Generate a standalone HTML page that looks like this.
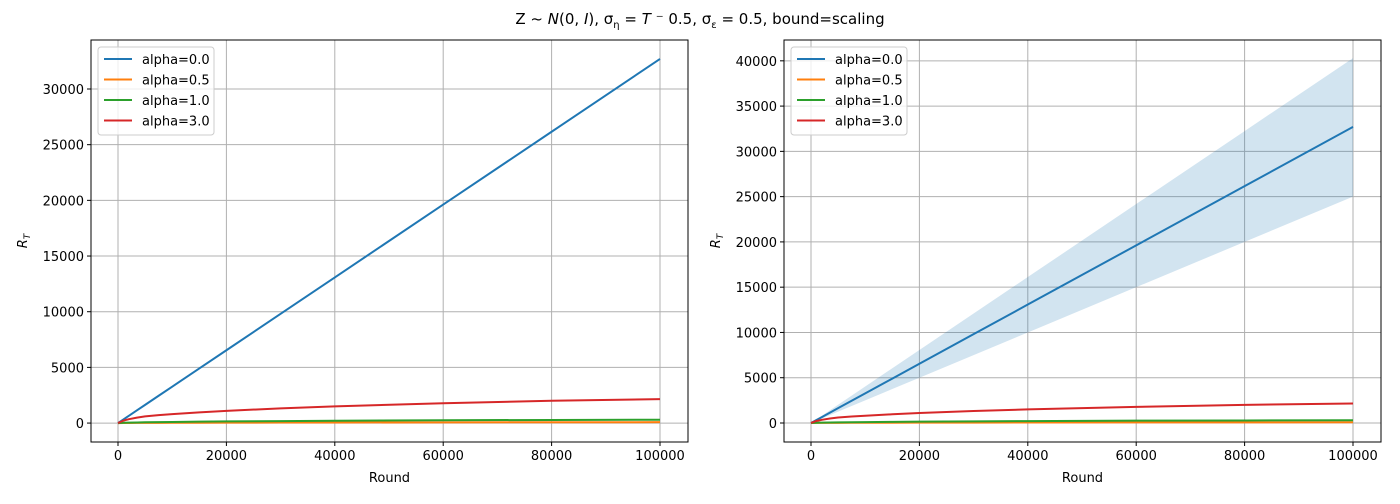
<!DOCTYPE html>
<html><head><meta charset="utf-8"><style>
body{margin:0;background:#fff;font-family:"DejaVu Sans","Liberation Sans",sans-serif}
svg text{font-family:"DejaVu Sans","Liberation Sans",sans-serif;font-size:13px;fill:#000}
</style></head><body>
<svg id="chart" width="1400" height="500" xmlns="http://www.w3.org/2000/svg">
<text x="700" y="24" text-anchor="middle" font-size="15" style="font-size:15px">Z ~ <tspan font-style="italic">N</tspan>(0, <tspan font-style="italic">I</tspan>), σ<tspan font-size="10" dy="4">η</tspan><tspan dy="-4"> = </tspan><tspan font-style="italic">T</tspan> ⁻ 0.5, σ<tspan font-size="10" dy="4">ε</tspan><tspan dy="-4"> = 0.5, bound=scaling</tspan></text>
</svg>
<script>
const rounds=[0,1000,2000,3500,5000,7500,10000,15000,20000,30000,40000,60000,80000,100000];
const a0=[0,327,654,1145,1635,2453,3270,4905,6540,9810,13080,19620,26160,32700];
const a05=[0,6,10,14,18,22,25,32,38,46,52,63,72,80];
const a1=[0,25,40,55,70,85,100,125,150,180,210,255,280,300];
const a3=[0,220,350,490,600,710,800,960,1100,1320,1500,1780,2000,2150];
const bandLo=[0,250,500,875,1250,1875,2500,3750,5000,7500,10000,15000,20000,25000];
const bandHi=[0,403,806,1411,2015,3023,4030,6045,8060,12090,16120,24180,32240,40300];
const labels=["alpha=0.0","alpha=0.5","alpha=1.0","alpha=3.0"];
const colors=["#1f77b4","#ff7f0e","#2ca02c","#d62728"];
const xticks=[0,20000,40000,60000,80000,100000];
const yticksL=[0,5000,10000,15000,20000,25000,30000];
const yticksR=[0,5000,10000,15000,20000,25000,30000,35000,40000];
const svg=document.getElementById('chart');const NS='http://www.w3.org/2000/svg';
function mk(t,a,p){const e=document.createElementNS(NS,t);for(const k in a)e.setAttribute(k,a[k]);(p||svg).appendChild(e);return e;}
function panel(px,yMin,yMax,yticks,band,name){
 const L=px,R=px+597,T=40,B=442;
 const X=v=>L+27+v/100000*542;
 const Y=v=>B-(v-yMin)/(yMax-yMin)*(B-T);
 const g=mk('g',{});
 xticks.forEach(t=>{const l=mk('line',{x1:X(t),x2:X(t),y1:T,y2:B,stroke:'#b0b0b0','stroke-width':1},g);
  mk('line',{x1:X(t),x2:X(t),y1:B,y2:B+4,stroke:'#000'},g);
  const tx=mk('text',{x:X(t),y:B+18,'text-anchor':'middle'},g);tx.textContent=t;});
 yticks.forEach(t=>{const l=mk('line',{x1:L,x2:R,y1:Y(t),y2:Y(t),stroke:'#b0b0b0','stroke-width':1},g);
  mk('line',{x1:L-4,x2:L,y1:Y(t),y2:Y(t),stroke:'#000'},g);
  const tx=mk('text',{x:L-7,y:Y(t)+5,'text-anchor':'end'},g);tx.textContent=t;});
 if(band){let d='M'+rounds.map((r,i)=>X(r)+','+Y(bandHi[i])).join('L')+'L'+rounds.slice().reverse().map((r,j)=>X(r)+','+Y(bandLo[rounds.length-1-j])).join('L')+'Z';
  const p=mk('path',{d:d,fill:'#1f77b4','fill-opacity':0.2},g);}
 [a0,a05,a1,a3].forEach((s,k)=>{const p=mk('polyline',{points:rounds.map((r,i)=>X(r)+','+Y(s[i])).join(' '),fill:'none',stroke:colors[k],'stroke-width':2,'stroke-linejoin':'round'},g);});
 const fr=mk('rect',{x:L,y:T,width:R-L,height:B-T,fill:'none',stroke:'#000','stroke-width':1},g);
 const xl=mk('text',{x:(L+R)/2,y:482,'text-anchor':'middle'},g);xl.textContent='Round';
 const yl=mk('text',{x:0,y:0,transform:`translate(${L-64},241) rotate(-90)`,'text-anchor':'middle'},g);yl.innerHTML='<tspan font-style="italic">R</tspan><tspan font-size="9" dy="3" font-style="italic">T</tspan>';
 const lg=mk('g',{},g);
 mk('rect',{x:L+7,y:47,width:116,height:88,rx:3,fill:'#fff','fill-opacity':0.8,stroke:'#ccc'},lg);
 labels.forEach((lab,k)=>{const yy=59+k*20.5;mk('line',{x1:L+13,x2:L+41,y1:yy,y2:yy,stroke:colors[k],'stroke-width':2},lg);
  const t=mk('text',{x:L+51,y:yy+5},lg);t.textContent=lab;});
}
panel(91,-1700,34400,yticksL,false,'left-panel');
panel(784,-2100,42300,yticksR,true,'right-panel');
</script>
</body></html>
